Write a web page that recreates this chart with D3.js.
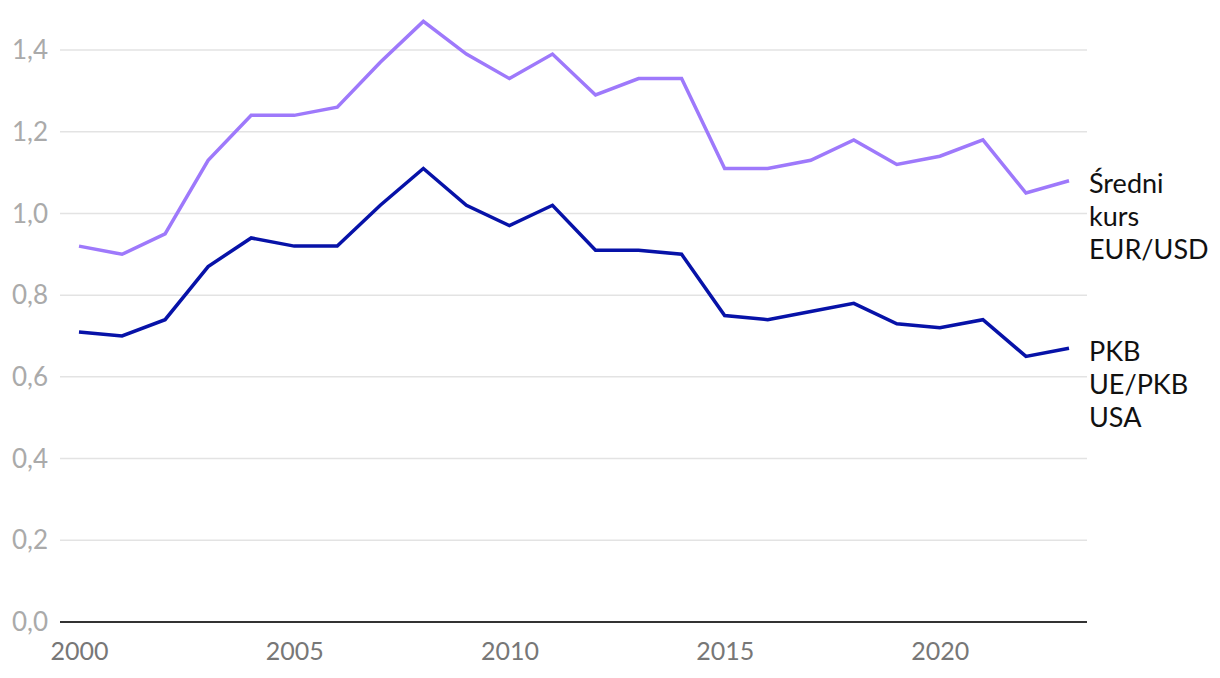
<!DOCTYPE html>
<html>
<head>
<meta charset="utf-8">
<script src="https://cdn.jsdelivr.net/npm/d3@7"></script>
<style>
  body { margin: 0; background: #fff; }
  svg text { font-family: Lato, "Noto Sans", sans-serif; }
</style>
</head>
<body>
<svg id="chart" width="1220" height="678"></svg>
<script>
var years = d3.range(2000, 2024);
var kursEurUsd = [0.92, 0.90, 0.95, 1.13, 1.24, 1.24, 1.26, 1.37, 1.47, 1.39, 1.33, 1.39,
  1.29, 1.33, 1.33, 1.11, 1.11, 1.13, 1.18, 1.12, 1.14, 1.18, 1.05, 1.08];
var pkbUeUsa = [0.71, 0.70, 0.74, 0.87, 0.94, 0.92, 0.92, 1.02, 1.11, 1.02, 0.97, 1.02,
  0.91, 0.91, 0.90, 0.75, 0.74, 0.76, 0.78, 0.73, 0.72, 0.74, 0.65, 0.67];
var yTicks = [0, 0.2, 0.4, 0.6, 0.8, 1.0, 1.2, 1.4];
var xTicks = [2000, 2005, 2010, 2015, 2020];
var seriesLabels = [
  { name: 'kurs', lines: ['Średni', 'kurs', 'EUR/USD'], color: '#9e79fb', values: kursEurUsd },
  { name: 'pkb', lines: ['PKB', 'UE/PKB', 'USA'], color: '#0712a8', values: pkbUeUsa }
];

var svg = d3.select('#chart');
var left = 60, right = 1087, bottom = 622;

var x = d3.scaleLinear().domain([2000, 2023]).range([79, 1069]);
var y = d3.scaleLinear().domain([0, 1.4]).range([bottom, 50]);

var fmt = function(v) { return d3.format('.1f')(v).replace('.', ','); };

// gridlines
svg.append('g')
  .selectAll('line')
  .data(yTicks.filter(function(t) { return t > 0; }))
  .enter()
  .append('line')
  .attr('x1', left)
  .attr('x2', right)
  .attr('y1', y)
  .attr('y2', y)
  .attr('stroke', '#e3e3e3')
  .attr('stroke-width', 1.5);

// y labels
svg.append('g')
  .selectAll('text')
  .data(yTicks)
  .enter()
  .append('text')
  .attr('x', 48)
  .attr('y', y)
  .attr('dy', '0.35em')
  .attr('text-anchor', 'end')
  .attr('fill', '#aaaaaa')
  .attr('font-size', 26)
  .text(fmt);

// x axis
var xAxis = svg.append('g')
  .attr('transform', 'translate(0,' + bottom + ')')
  .call(d3.axisBottom(x).tickValues(xTicks).tickSize(0).tickPadding(20).tickFormat(d3.format('d')));
xAxis.select('.domain').remove();
xAxis.selectAll('text')
  .attr('font-size', 25)
  .attr('fill', '#777777')
  .attr('font-family', 'Lato, sans-serif');

svg.append('line')
  .attr('x1', left)
  .attr('x2', right)
  .attr('y1', bottom)
  .attr('y2', bottom)
  .attr('stroke', '#333333')
  .attr('stroke-width', 2);

var line = d3.line()
  .x(function(d, i) { return x(years[i]); })
  .y(function(d) { return y(d); });

svg.append('g')
  .selectAll('path')
  .data(seriesLabels)
  .enter()
  .append('path')
  .attr('d', function(s) { return line(s.values); })
  .attr('fill', 'none')
  .attr('stroke', function(s) { return s.color; })
  .attr('stroke-width', 3.5)
  .attr('stroke-linejoin', 'miter');

// end labels
var labels = svg.append('g')
  .selectAll('text')
  .data(seriesLabels)
  .enter()
  .append('text')
  .attr('x', 1089)
  .attr('y', function(s) { return y(s.values[s.values.length - 1]) + 3; })
  .attr('font-size', 27)
  .attr('fill', '#111111');
labels.selectAll('tspan')
  .data(function(s) { return s.lines; })
  .enter()
  .append('tspan')
  .attr('x', 1089)
  .attr('dy', function(d, i) { return i === 0 ? '0.35em' : '1.22em'; })
  .text(function(d) { return d; });
</script>
</body>
</html>
